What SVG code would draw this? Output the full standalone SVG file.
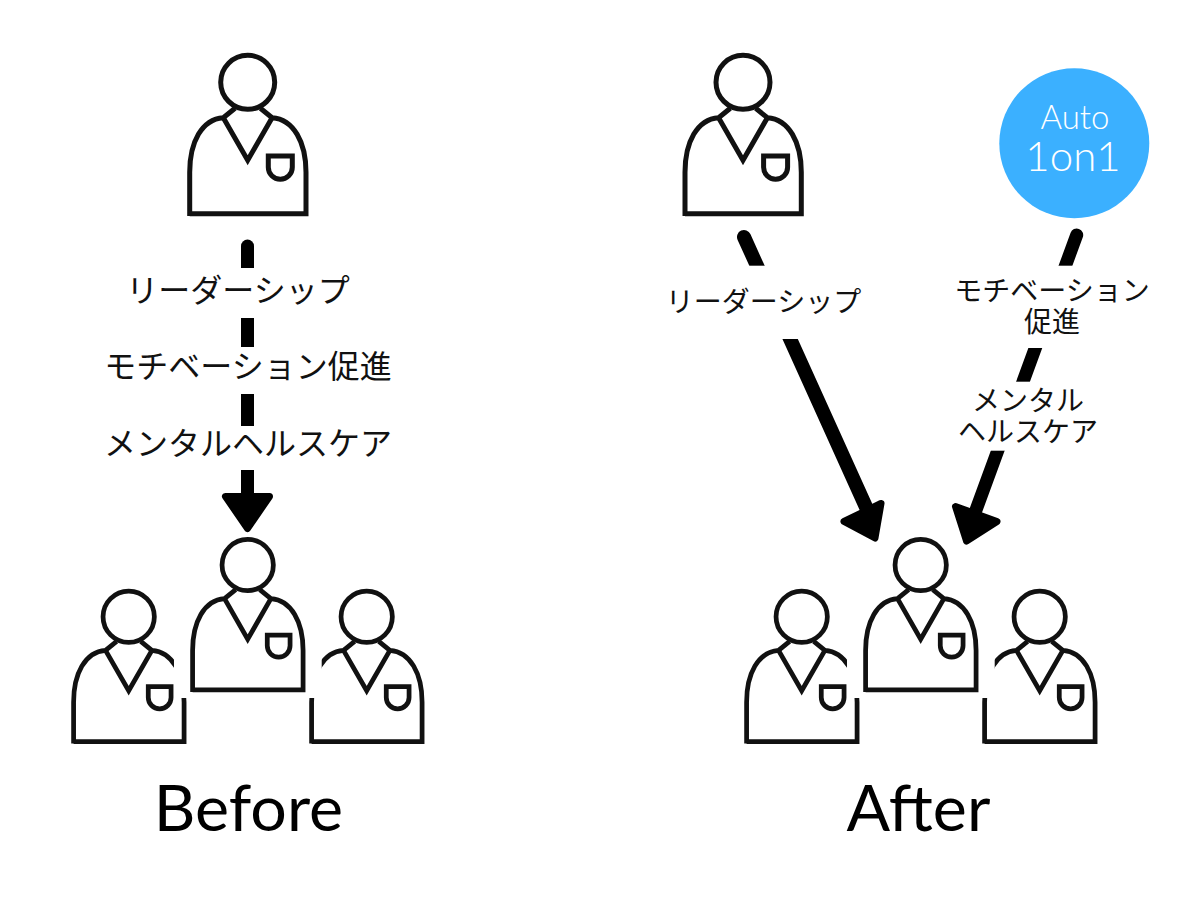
<svg xmlns="http://www.w3.org/2000/svg" width="1200" height="900" viewBox="0 0 1200 900">
<style>
.p{fill:none;stroke:#111;stroke-width:5;stroke-linejoin:miter}
.ja{font-family:"Noto Sans CJK JP","Liberation Sans",sans-serif;fill:#111;text-anchor:middle}
.l{font-size:32px}.s{font-size:28px}
.t{font-family:Lato,"Noto Sans",sans-serif;font-size:64.5px;fill:#000;text-anchor:middle}
.c{font-family:Lato,"Noto Sans",sans-serif;font-weight:300;fill:#fff;text-anchor:middle}
.ln{stroke:#000;stroke-width:13;stroke-linecap:round;fill:none}
.hd{fill:#000;stroke:#000;stroke-width:7;stroke-linejoin:round}
.w{fill:#fff}
</style>
<defs>
<g id="person" class="p">
<circle cx="0" cy="0" r="27"/>
<path d="M-58,131.4H58.3V90C58.3,60 46,37 24.4,35.4L12.7,26M-12.7,26L-24.4,35.4C-46,37 -58,60 -58,90V133.6"/>
<path d="M-24.4,35.4L0,78L24.4,35.4"/>
<path d="M20.6,73.7H44.6V85A12,12 0 0 1 20.6,85Z"/>
</g>
</defs>
<rect width="1200" height="900" fill="#fff"/>
<g id="before-top"><use href="#person" transform="translate(247.7,82.3)"/></g>
<g id="before-left"><use href="#person" transform="translate(128.7,616.7) scale(.95)"/></g>
<g id="before-right"><use href="#person" transform="translate(366.7,616.7) scale(.95)"/></g>
<g id="before-center"><rect class="w" x="174" y="530" width="147.700" height="168"/><use href="#person" transform="translate(247.700,565) scale(.95)"/></g>
<g id="after-top"><use href="#person" transform="translate(743,82.3)"/></g>
<g id="after-left"><use href="#person" transform="translate(801.700,616.7) scale(.95)"/></g>
<g id="after-right"><use href="#person" transform="translate(1039.700,616.7) scale(.95)"/></g>
<g id="after-center"><rect class="w" x="847" y="530" width="147.700" height="168"/><use href="#person" transform="translate(920.700,565) scale(.95)"/></g>
<g id="auto-1on1"><circle cx="1074.300" cy="143.300" r="75" fill="#3bb0ff"/>
<text class="c" x="1075" y="129" font-size="33">Auto</text>
<text class="c" x="1073" y="171" font-size="42">1on1</text></g>
<g id="connectors">
<path class="ln" d="M247.5,246V495"/>
<path class="hd" d="M225.5,496.500H269.500L247.500,528.500Z"/>
<path class="ln" style="stroke-width:14" d="M744,237L866,507"/>
<path class="hd" d="M881,503.500L844,521.500L875,538Z"/>
<path class="ln" d="M1076.700,235L976,510"/>
<path class="hd" d="M955.500,506.500L997,521.500L966.500,541Z"/>
</g>
<g id="labels">
<rect class="w" x="120" y="268" width="240" height="50"/>
<rect class="w" x="100" y="347" width="296" height="47"/>
<rect class="w" x="100" y="426" width="296" height="44"/>
<text class="ja l" x="238" y="302">リーダーシップ</text>
<text class="ja l" x="248" y="378">モチベーション促進</text>
<text class="ja l" x="248" y="455">メンタルヘルスケア</text>
<rect class="w" x="660" y="265.700" width="210" height="73.300"/>
<rect class="w" x="950" y="265.700" width="205" height="82.300"/>
<rect class="w" x="950" y="381.700" width="160" height="69"/>
<text class="ja s" x="763.500" y="312">リーダーシップ</text>
<text class="ja s" x="1052" y="301">モチベーション</text>
<text class="ja s" x="1052" y="332">促進</text>
<text class="ja s" x="1028" y="411">メンタル</text>
<text class="ja s" x="1028" y="442">ヘルスケア</text>
<text class="t" x="248.500" y="831">Before</text>
<text class="t" x="918.500" y="831">After</text>
</g>
</svg>
